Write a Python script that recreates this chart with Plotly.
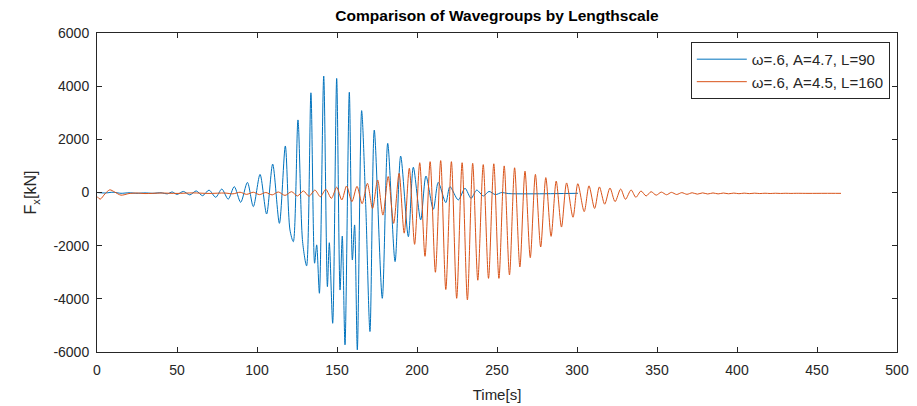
import plotly.graph_objects as go

# ---- Data (extrema of each trace) ----
blue_t = [0, 5, 10, 15, 20, 25, 30, 35, 40, 44, 47, 50, 54, 58, 62, 66, 70,
          74.2, 78, 82, 85.8, 89.8, 94, 97.7, 101.9, 106, 109.8, 114, 117.7,
          120.6, 122.7, 125.6, 128.5, 131, 133.7, 136, 137.3, 139, 141.7, 144,
          145.2, 147.3, 149.8, 151.9, 153.3, 155, 157.7, 159.6, 161, 162.7,
          165.4, 168, 170.6, 173.3, 178.3, 181.7, 186.3, 189.8, 194.6, 197.7,
          202.3, 205.6, 210.2, 213.3, 218, 220.6, 225.8, 230, 233.8, 237.3,
          241.5, 245, 249, 253, 257, 300.6]
blue_f = [0, -20, 10, -30, -10, -30, -15, -30, -10, -50, 20, -70, 40, -90, 60,
          -120, 90, -180, 130, -250, 220, -370, 380, -530, 680, -810, 1070,
          -1160, 1750, -1410, -1850, 2730, -1850, -2760, 3750, -2660, -1970,
          -3790, 4380, -3540, -1890, -4920, 4290, -3670, -1640, -5730, 3770,
          -2540, -1220, -5920, 3080, -550, -5230, 2350, -3980, 1850, -2600,
          1370, -1660, 950, -1030, 620, -630, 380, -380, 220, -280, 160, -220,
          90, -130, 40, -80, 0, -40, -30]

orange_t = [0, 2, 5, 8, 11, 15, 20, 25, 30, 40, 50, 60, 70, 80, 85, 89.4,
            93.5, 97.7, 101.5, 105.5, 109.5, 113.3, 117.5, 121.6, 125.3, 129,
            132.5, 136.2, 139.6, 143, 146.5, 149.8, 153, 156, 159.3, 162.5,
            165.7, 169, 172.2, 175.4, 178.7, 182, 185.4, 188.8, 192, 195.2,
            198.5, 201.7, 205, 208.2, 211.5, 214.8, 218, 221.5, 224.8, 228.2,
            231.5, 234.8, 238, 241.4, 244.7, 248, 251.2, 254.5, 257.8, 261,
            264.3, 267.5, 270.8, 274, 277.3, 280.5, 283.8, 287, 290.3, 293.5,
            297.5, 300.5, 304.5, 307.5, 311, 314, 317.3, 320.6, 323.8, 327.3,
            330.3, 333.8, 336.8, 340, 343.2, 346.3, 349.5, 352.7, 356, 359,
            362.3, 365.5, 368.7, 372, 375.2, 378.5, 381.7, 385, 388.2, 391.5,
            394.7, 398, 401.2, 404.5, 407.7, 411, 414.2, 417.5, 420.7, 424,
            427.2, 430.5, 433.7, 437, 445, 455, 465]
orange_f = [-150, -250, -50, 100, 20, -100, -40, -20, -40, -20, -35, -15, -35,
            -20, -50, 10, -70, 10, -80, 0, -90, 20, -110, 30, -130, 60, -140,
            90, -160, 120, -220, 200, -280, 245, -345, 230, -420, 345, -600,
            470, -850, 600, -1160, 720, -1530, 910, -1950, 1120, -2400, 1160,
            -3000, 1200, -3650, 1160, -3980, 1120, -4040, 1100, -3300, 1050,
            -3230, 1080, -3230, 1000, -3100, 930, -2800, 800, -2450, 680,
            -2050, 560, -1650, 430, -1300, 360, -930, 330, -720, 250, -600,
            210, -440, 170, -345, 130, -255, 95, -180, 56, -130, 30, -100, 15,
            -85, 5, -75, -5, -68, -10, -62, -14, -56, -17, -52, -20, -48, -22,
            -45, -24, -42, -25, -40, -27, -38, -28, -36, -29, -35, -30, -33,
            -31, -32]

labels = ["\u03c9=.6, A=4.7, L=90", "\u03c9=.6, A=4.5, L=160"]
colors = ["#0072BD", "#D95319"]

x_ticks = list(range(0, 501, 50))
y_ticks = list(range(-6000, 6001, 2000))
y_tick_text = [str(v) for v in y_ticks]
x_tick_text = [str(v) for v in x_ticks]

FONT = "Liberation Sans, Arial"

fig = go.Figure()
fig.add_trace(go.Scatter(x=blue_t, y=blue_f, mode="lines", name=labels[0],
                         line=dict(color=colors[0], width=1, shape="spline", smoothing=0.8)))
fig.add_trace(go.Scatter(x=orange_t, y=orange_f, mode="lines", name=labels[1],
                         line=dict(color=colors[1], width=1, shape="spline", smoothing=0.8)))

axis_common = dict(showline=True, linecolor="#262626", linewidth=1, mirror="ticks",
                   ticks="inside", ticklen=5, tickcolor="#262626", showgrid=False,
                   zeroline=False, automargin=False,
                   tickfont=dict(family=FONT, size=14, color="#262626"))

# The page body adds an 8px offset; the figure is sized to fill the rest of the window.
fig.update_layout(
    width=909, height=398,
    margin=dict(l=89, r=20, t=25, b=54),
    paper_bgcolor="white", plot_bgcolor="white",
    title=dict(text="<b>Comparison of Wavegroups by Lengthscale</b>", x=0.5,
               xref="paper", xanchor="center", y=1 - (16 - 8) / 398, yanchor="middle",
               font=dict(family=FONT, size=15.5, color="black")),
    xaxis=dict(range=[0, 500], tickvals=x_ticks, ticktext=x_tick_text,
               ticklabelstandoff=5,
               title=dict(text="Time[s]", standoff=12,
                          font=dict(family=FONT, size=15, color="#262626")),
               **axis_common),
    yaxis=dict(range=[-6000, 6000], tickvals=y_ticks, ticktext=y_tick_text,
               ticklabelstandoff=4,
               title=dict(text="F<sub>x</sub>[kN]", standoff=12,
                          font=dict(family=FONT, size=16, color="#262626")),
               **axis_common),
    legend=dict(x=0.991, xanchor="right", y=0.972, yanchor="top",
                bordercolor="#262626", borderwidth=1, bgcolor="white",
                font=dict(family=FONT, size=15, color="#262626"),
                tracegroupgap=0, itemwidth=50),
    showlegend=True,
)

fig.write_html("out.html")
